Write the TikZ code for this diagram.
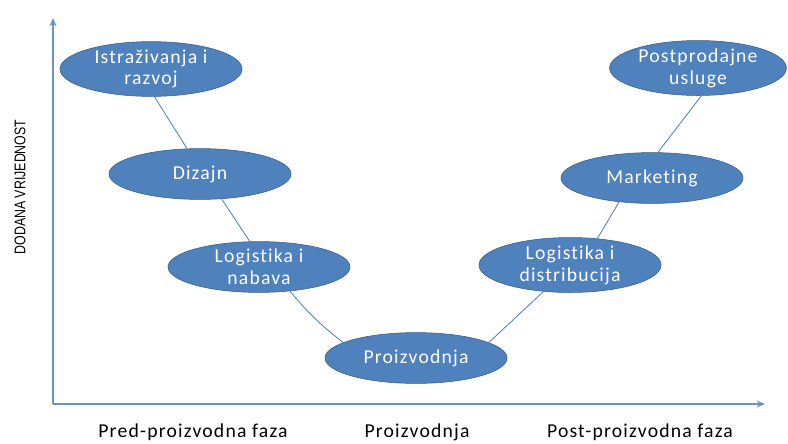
\documentclass[tikz,border=0pt]{standalone}
\usepackage{fontspec}
\setmainfont{Carlito}
\newfontfamily\fazafont[LetterSpace=6,Ligatures=NoCommon]{Carlito}
\newfontfamily\osfont[FakeStretch=0.8]{Liberation Sans}
\usetikzlibrary{shapes.geometric,arrows.meta}

\definecolor{fazablue}{HTML}{4F81BD}
\definecolor{fazaborder}{HTML}{385D8A}
\definecolor{osblue}{HTML}{6A93C8}

\tikzset{
  faza/.style={ellipse, draw=fazaborder, fill=fazablue, text=white,
    minimum width=4.55cm, minimum height=1.27cm, inner sep=0pt, align=center,
    font=\fazafont\fontsize{14}{15.5}\selectfont},
  veza/.style={draw=fazablue, line width=0.6pt},
  os/.style={draw=osblue, line width=0.9pt, -{Stealth[length=6pt,width=5pt]}},
  oznaka/.style={anchor=base, font=\fazafont\fontsize{14}{16}\selectfont}
}

\begin{document}
\begin{tikzpicture}[x=0.025cm, y=-0.025cm]
	\useasboundingbox (0,0) rectangle (788,443);

	% Osi
	\coordinate (ishodiste) at (53,404);
	\coordinate (vrhy) at (53,18);
	\coordinate (krajx) at (765,404);
	\draw[os] (ishodiste) -- (vrhy);
	\draw[os] (ishodiste) -- (krajx);
	\node[rotate=90, font=\osfont\fontsize{11}{12}\selectfont] (vrijednost) at (20,187) {DODANA VRIJEDNOST};

	% Faze lanca vrijednosti
	\node[faza] (istrazivanje) at (151,69) {Istraživanja i\\razvoj};
	\node[faza] (dizajn) at (200,174) {Dizajn};
	\node[faza] (nabava) at (259,267) {Logistika i\\nabava};
	\node[faza] (proizvodnja) at (416,358) {Proizvodnja};
	\node[faza] (distribucija) at (570,265) {Logistika i\\distribucija};
	\node[faza] (marketing) at (652,178) {Marketing};
	\node[faza, minimum width=4.42cm] (usluge) at (698,68) {Postprodajne\\usluge};

	% Veze
	\draw[veza] (istrazivanje.-83) -- (dizajn.117);
	\draw[veza] (dizajn.-49) -- (nabava.110);
	\draw[veza] (nabava.-38) to[bend right=6] (proizvodnja.168);
	\draw[veza] (proizvodnja.12) -- (distribucija.-135);
	\draw[veza] (distribucija.44) -- (marketing.-144);
	\draw[veza] (marketing.77) -- (usluge.-83);

	% Oznake faza
	\node[oznaka] (predfaza) at (193,437) {Pred-proizvodna faza};
	\node[oznaka] (proizfaza) at (417,437) {Proizvodnja};
	\node[oznaka] (postfaza) at (640,437) {Post-proizvodna faza};
\end{tikzpicture}
\end{document}
